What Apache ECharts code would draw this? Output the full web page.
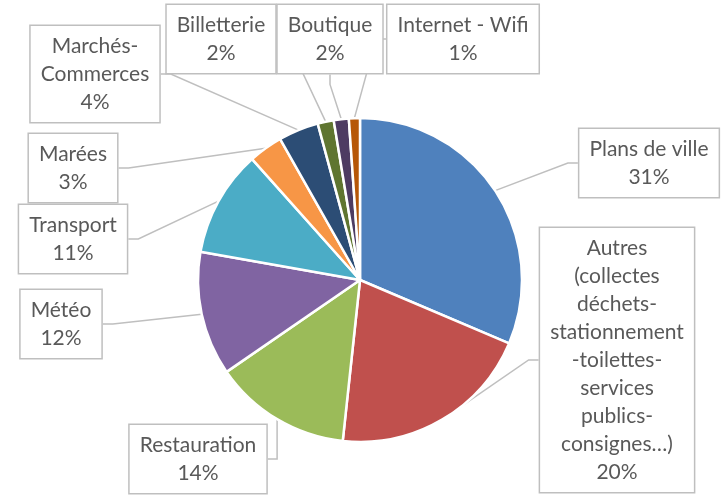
<!DOCTYPE html>
<html>
<head>
<meta charset="utf-8">
<script src="https://cdn.jsdelivr.net/npm/echarts@6/dist/echarts.min.js"></script>
<style>
  html, body { margin: 0; padding: 0; background: #fff; }
  #main { width: 721px; height: 498px; }
</style>
</head>
<body>
<div id="main"></div>
<script>
// parts, clockwise from 12 o'clock
const categories = [
  'Plans de ville',
  'Autres\n(collectes\ndéchets-\nstationnement\n-toilettes-\nservices\npublics-\nconsignes…)',
  'Restauration',
  'Météo',
  'Transport',
  'Marées',
  'Marchés-\nCommerces',
  'Billetterie',
  'Boutique',
  'Internet - Wifi'
]
const values = [31.4, 20.3, 13.7, 12.4, 10.6, 3.4, 4.0, 1.6, 1.5, 1.1]
const colors = ['#4F81BD', '#C0504D', '#9BBB59', '#8064A2', '#4BACC6', '#F79646',
  '#2C4D75', '#5F7530', '#4D3B62', '#B65708']

// centre of each callout box
const labelPos = [
  [649, 163], [617, 360], [198, 459], [61, 324], [73, 239],
  [73, 168], [95, 74], [221, 39], [330, 39], [463, 39]
]

const chart = echarts.init(document.getElementById('main'))

const option = {
  backgroundColor: '#fff',
  animation: false,
  series: [{
    type: 'pie',
    center: [360, 280],
    radius: 162,
    startAngle: 90,
    clockwise: true,
    avoidLabelOverlap: false,
    data: categories.map((name, i) => ({
      name: name,
      value: values[i],
      itemStyle: { color: colors[i] }
    })),
    itemStyle: {
      borderColor: '#fff',
      borderWidth: 2.5
    },
    label: {
      show: true,
      position: 'outside',
      formatter: p => p.name + '\n' + Math.round(p.percent) + '%',
      fontFamily: 'Lato',
      fontSize: 21,
      lineHeight: 28,
      color: '#595959',
      align: 'center',
      backgroundColor: '#fff',
      borderColor: '#BFBFBF',
      borderWidth: 1.5,
      padding: [6, 10]
    },
    labelLine: {
      show: true,
      length: 10,
      length2: 10,
      lineStyle: { color: '#BFBFBF', width: 1.5 }
    },
    labelLayout: function (params) {
      const pos = labelPos[params.dataIndex]
      return {
        x: pos[0],
        y: pos[1],
        align: 'center',
        verticalAlign: 'middle'
      }
    }
  }]
}

chart.setOption(option)
</script>
</body>
</html>
